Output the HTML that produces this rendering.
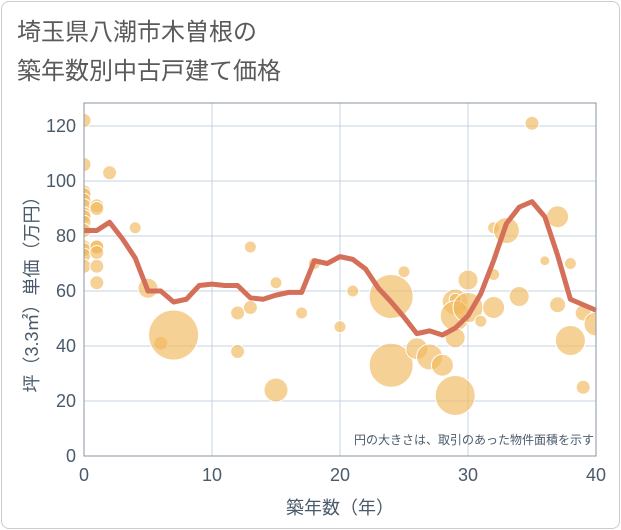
<!DOCTYPE html>
<html><head><meta charset="utf-8"><style>
body{margin:0;background:#fff;font-family:"Liberation Sans","Noto Sans CJK JP",sans-serif}
#card{position:absolute;left:1px;top:1px;width:617px;height:526px;border:1px solid #ccc;border-radius:8px;background:#fff}
</style></head><body>
<div id="card"></div>
<svg id="chart" width="621" height="530" style="position:absolute;left:0;top:0">
<defs><clipPath id="pc"><rect x="84" y="103" width="512" height="353"/></clipPath></defs>
<text x="17" y="40" font-size="24" fill="#5a5a5a">埼玉県八潮市木曽根の</text>
<text x="17" y="79" font-size="24" fill="#5a5a5a">築年数別中古戸建て価格</text>
<g id="grid"></g><g id="bubbles" clip-path="url(#pc)"></g><g id="line"></g><g id="axes"></g>
<text x="594" y="444" font-size="12" fill="#4a5a6a" text-anchor="end">円の大きさは、取引のあった物件面積を示す</text>
<text x="340" y="514" font-size="18" fill="#4a5a6a" text-anchor="middle">築年数（年）</text>
<text transform="translate(38,290) rotate(-90)" font-size="18" fill="#4a5a6a" text-anchor="middle">坪（3.3㎡）単価（万円）</text>
</svg>
<script>
const xTicks=[0,10,20,30,40];
const yTicks=[0,20,40,60,80,100,120];
const lineYears=[0,1,2,3,4,5,6,7,8,9,10,11,12,13,14,15,16,17,18,19,20,21,22,23,24,25,26,27,28,29,30,31,32,33,34,35,36,37,38,39,40];
const linePrices=[82,82,85,79,72,60,60,56,57,62,62.5,62,62,57.5,57,58.5,59.5,59.5,71,70,72.5,71.5,68,61,56,50.5,44.5,45.5,44,46.5,51,59,71,84.5,90.5,92.5,87,73,57,55,53];
const bubbleYears=[0,0,0,0,0,0,0,0,0,0,0,0,0,0,1,1,1,1,1,1,1,2,4,5,6,7,12,12,13,13,15,15,17,18,20,21,24,24,25,26,27,28,29,29,29,29,29,30,30,31,32,32,32,33,34,35,36,37,37,38,38,39,39,40];
const bubblePrices=[122,106,96,95,93,91,88,87,85,82,76,75,73,69,91,90,76,76,74,69,63,103,83,61,41,44,52,38,76,54,24,63,52,70,47,60,58,33,67,39,36,33,22,56,57,51,43,64,54,49,83,66,54,82,58,121,71,87,55,42,70,52,25,48];
const bubbleSizes=[7,7,7,7,7,7,7,7,7,7,7,7,7,7,7,7,7,7,7,7,7,7,6,10,7,25,7,7,6,7,12,6,6,6,6,6,22,22,6,11,13,11,20,13,6,15,10,10,15,6,6,6,11,13,10,7,5,11,8,15,6,8,7,12];
const X0=84,X1=596,Y0=456,YT=103;
const sx=v=>X0+(v-0)/40*(X1-X0);
const sy=v=>Y0-v*2.75;
const NS="http://www.w3.org/2000/svg";
function mk(tag,attrs,parent){const e=document.createElementNS(NS,tag);for(const k in attrs)e.setAttribute(k,attrs[k]);parent.appendChild(e);return e;}
const grid=document.getElementById('grid'),axes=document.getElementById('axes');
yTicks.forEach(t=>{
 const l=mk('line',{x1:X0,x2:X1,y1:sy(t),y2:sy(t),stroke:'#c5d3e2','stroke-width':1},grid);
 
 
 const tx=mk('text',{x:X0-8,y:sy(t)+6,'font-size':18,fill:'#4a5a6a','text-anchor':'end'},axes);
 tx.textContent=t;
 
 
});
xTicks.forEach(t=>{
 const l=mk('line',{x1:sx(t),x2:sx(t),y1:YT,y2:Y0,stroke:'#c5d3e2','stroke-width':1},grid);
 
 
 const tx=mk('text',{x:sx(t),y:Y0+25,'font-size':18,fill:'#4a5a6a','text-anchor':'middle'},axes);
 tx.textContent=t;
 
 
});
const fr=mk('rect',{x:X0,y:YT,width:X1-X0,height:Y0-YT,fill:'none',stroke:'#8a96a2','stroke-width':1},axes);


const bg=document.getElementById('bubbles');
bubbleYears.forEach((yr,i)=>{
 const c=mk('circle',{cx:sx(yr),cy:sy(bubblePrices[i]),r:bubbleSizes[i],fill:'rgba(241,184,92,0.65)',stroke:'#fff','stroke-width':1},bg);
 
 
});
const pts=lineYears.map((yr,i)=>sx(yr)+','+sy(linePrices[i])).join(' ');
const pl=mk('polyline',{points:pts,fill:'none',stroke:'#d4705a','stroke-width':5,'stroke-linejoin':'round'},document.getElementById('line'));


</script>
</body></html>
